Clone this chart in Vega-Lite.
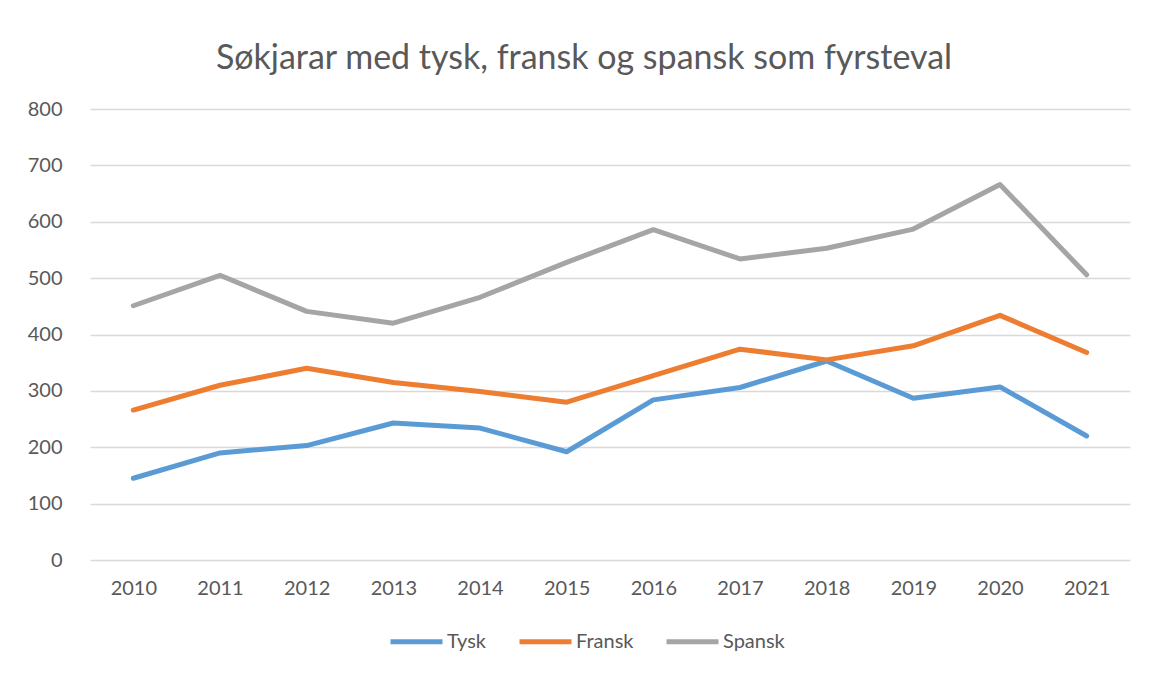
{
  "$schema": "https://vega.github.io/schema/vega-lite/v6.json",
  "autosize": "none",
  "width": 1040,
  "height": 451,
  "padding": {"left": 90, "top": 109, "right": 22, "bottom": 113},
  "background": "white",
  "title": {
    "text": "Søkjarar med tysk, fransk og spansk som fyrsteval",
    "font": "Lato",
    "fontSize": 34,
    "fontWeight": "normal",
    "color": "#595959",
    "anchor": "middle",
    "dx": -26,
    "offset": 23
  },
  "config": {
    "view": {"stroke": null},
    "font": "Lato"
  },
  "data": {
    "values": [
      {"year": "2010", "lang": "Tysk", "v": 145},
      {"year": "2011", "lang": "Tysk", "v": 190},
      {"year": "2012", "lang": "Tysk", "v": 203},
      {"year": "2013", "lang": "Tysk", "v": 243},
      {"year": "2014", "lang": "Tysk", "v": 234},
      {"year": "2015", "lang": "Tysk", "v": 192},
      {"year": "2016", "lang": "Tysk", "v": 284},
      {"year": "2017", "lang": "Tysk", "v": 306},
      {"year": "2018", "lang": "Tysk", "v": 353},
      {"year": "2019", "lang": "Tysk", "v": 287},
      {"year": "2020", "lang": "Tysk", "v": 307},
      {"year": "2021", "lang": "Tysk", "v": 220},
      {"year": "2010", "lang": "Fransk", "v": 266},
      {"year": "2011", "lang": "Fransk", "v": 310},
      {"year": "2012", "lang": "Fransk", "v": 340},
      {"year": "2013", "lang": "Fransk", "v": 315},
      {"year": "2014", "lang": "Fransk", "v": 299},
      {"year": "2015", "lang": "Fransk", "v": 280},
      {"year": "2016", "lang": "Fransk", "v": 327},
      {"year": "2017", "lang": "Fransk", "v": 374},
      {"year": "2018", "lang": "Fransk", "v": 355},
      {"year": "2019", "lang": "Fransk", "v": 380},
      {"year": "2020", "lang": "Fransk", "v": 434},
      {"year": "2021", "lang": "Fransk", "v": 368},
      {"year": "2010", "lang": "Spansk", "v": 451},
      {"year": "2011", "lang": "Spansk", "v": 505},
      {"year": "2012", "lang": "Spansk", "v": 441},
      {"year": "2013", "lang": "Spansk", "v": 420},
      {"year": "2014", "lang": "Spansk", "v": 466},
      {"year": "2015", "lang": "Spansk", "v": 528},
      {"year": "2016", "lang": "Spansk", "v": 586},
      {"year": "2017", "lang": "Spansk", "v": 534},
      {"year": "2018", "lang": "Spansk", "v": 553},
      {"year": "2019", "lang": "Spansk", "v": 587},
      {"year": "2020", "lang": "Spansk", "v": 666},
      {"year": "2021", "lang": "Spansk", "v": 506}
    ]
  },
  "mark": {"type": "line", "strokeWidth": 5, "strokeCap": "round", "strokeJoin": "round"},
  "encoding": {
    "x": {
      "field": "year",
      "type": "ordinal",
      "scale": {"type": "point", "padding": 0.5},
      "axis": {
        "title": null,
        "labelAngle": 0,
        "labelFont": "Lato",
        "labelFontSize": 20,
        "labelColor": "#595959",
        "labelPadding": 18,
        "ticks": false,
        "domain": false,
        "grid": false
      }
    },
    "y": {
      "field": "v",
      "type": "quantitative",
      "scale": {"domain": [0, 800], "nice": false},
      "axis": {
        "title": null,
        "values": [0, 100, 200, 300, 400, 500, 600, 700, 800],
        "labelFont": "Lato",
        "labelFontSize": 20,
        "labelColor": "#595959",
        "labelPadding": 28,
        "ticks": false,
        "domain": false,
        "grid": true,
        "gridColor": "#D9D9D9",
        "gridWidth": 1.5
      }
    },
    "color": {
      "field": "lang",
      "type": "nominal",
      "sort": ["Tysk", "Fransk", "Spansk"],
      "scale": {"domain": ["Tysk", "Fransk", "Spansk"], "range": ["#5B9BD5", "#ED7D31", "#A5A5A5"]},
      "legend": {
        "title": null,
        "orient": "none",
        "legendX": 298,
        "legendY": 504,
        "direction": "horizontal",
        "symbolType": "stroke",
        "symbolSize": 2700,
        "symbolStrokeWidth": 5,
        "labelFont": "Lato",
        "labelFontSize": 20,
        "labelColor": "#595959",
        "labelOffset": 2,
        "columnPadding": 22
      }
    }
  }
}
